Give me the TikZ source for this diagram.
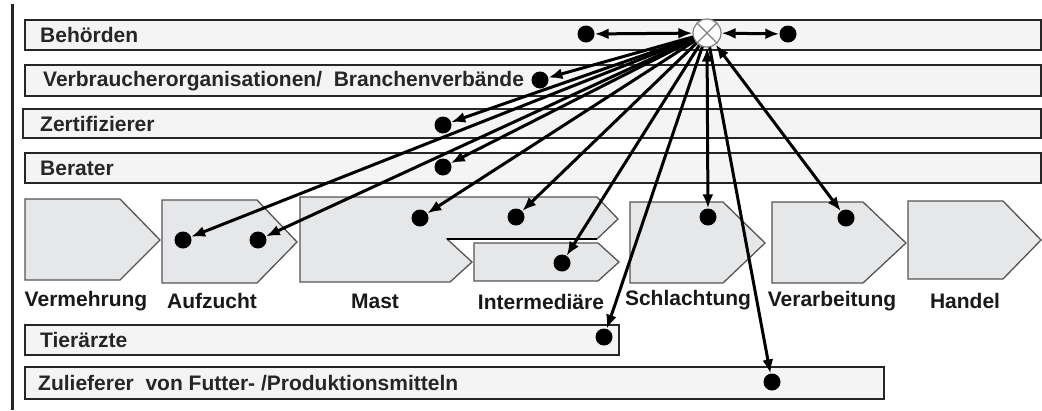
\documentclass[tikz,border=0pt]{standalone}
\usepackage{fontspec}
\setmainfont{Liberation Sans}
\usetikzlibrary{arrows.meta}
\definecolor{barfill}{HTML}{F4F4F4}
\definecolor{chevfill}{HTML}{E6E7E8}
\definecolor{chevedge}{HTML}{555555}
\tikzset{
  bar/.style={draw=black!85, line width=1.4pt, fill=barfill},
  barshadow/.style={black!85, line width=2.2pt},
  barlbl/.style={anchor=west, inner sep=0pt, font=\fontsize{21}{23}\selectfont\bfseries, text=black!85},
  chev/.style={draw=chevedge, line width=1.3pt, fill=chevfill, line join=miter},
  chevlbl/.style={inner sep=0pt, font=\fontsize{21}{23}\selectfont\bfseries, text=black!90},
  dot/.style={circle, fill=black, inner sep=0pt, minimum size=17pt},
  hubstyle/.style={circle, draw=gray, line width=1.2pt, fill=white, inner sep=0pt, minimum size=28pt},
  arr/.style={-{Latex[length=14pt,width=11pt]}, line width=3pt, black},
  darr/.style={{Latex[length=14pt,width=11pt]}-{Latex[length=14pt,width=11pt]}, line width=3pt, black},
}
\begin{document}
\begin{tikzpicture}[x=1pt,y=-1pt]
\useasboundingbox (0,0) rectangle (1042,410);
% left rule
\draw[line width=3pt, black!85] (12,4) -- (12,410);
% horizontal bars
\draw[bar] (25,20) rectangle (1041,50);
\draw[barshadow] (25,50) -- (1041,50);
\node[barlbl] (lbeh) at (40,35) {Behörden};
\draw[bar] (25,65) rectangle (1041,96);
\draw[barshadow] (25,96) -- (1041,96);
\node[barlbl] (lver) at (43,81) {Verbraucherorganisationen/\ \ Branchenverbände};
\draw[bar] (23,109) rectangle (1041,138);
\draw[barshadow] (23,138) -- (1041,138);
\node[barlbl] (lzer) at (40,124) {Zertifizierer};
\draw[bar] (25,153) rectangle (1041,183);
\draw[barshadow] (25,183) -- (1041,183);
\node[barlbl] (lber) at (40,168) {Berater};
\draw[bar] (25,325) rectangle (619,355);
\draw[barshadow] (25,355) -- (619,355);
\node[barlbl] (ltie) at (40,340) {Tierärzte};
\draw[bar] (25,367) rectangle (884,399);
\draw[barshadow] (25,399) -- (884,399);
\node[barlbl] (lzul) at (38,383) {Zulieferer\ \ von Futter- /Produktionsmitteln};
% chevrons
\draw[chev] (25,199) -- (120,199) -- (160,240) -- (120,280) -- (25,280) -- cycle;
\draw[chev] (162,200) -- (257,200) -- (297,242) -- (257,283) -- (162,283) -- cycle;
\draw[chev] (300,197) -- (597,197) -- (618,219) -- (597,239) -- (447,239) -- (472,262) -- (450,282) -- (300,282) -- cycle;
\draw[black, line width=2.4pt] (447,239) -- (597,239);
\draw[chev] (474,243) -- (598,243) -- (619,262) -- (598,281) -- (474,281) -- cycle;
\draw[chev] (630,202) -- (723,202) -- (765,243) -- (723,283) -- (630,283) -- cycle;
\draw[chev] (772,202) -- (863,202) -- (906,243) -- (863,283) -- (772,283) -- cycle;
\draw[chev] (908,201) -- (1003,201) -- (1041,240) -- (1003,279) -- (908,279) -- cycle;
% chevron labels
\node[chevlbl] (cver) at (86,301) {Vermehrung};
\node[chevlbl] (cauf) at (212,301) {Aufzucht};
\node[chevlbl] (cmas) at (375,301) {Mast};
\node[chevlbl] (cint) at (541,302) {Intermediäre};
\node[chevlbl] (csch) at (688,300) {Schlachtung};
\node[chevlbl] (cvea) at (832,301) {Verarbeitung};
\node[chevlbl] (chan) at (965,301) {Handel};
% hub
\node[hubstyle] (hub) at (707,33) {};
\draw[gray, line width=1.2pt] (hub.north west) -- (hub.south east);
\draw[gray, line width=1.2pt] (hub.north east) -- (hub.south west);
% dots
\node[dot] (dbl) at (586,34) {};
\node[dot] (dbr) at (788,34) {};
\node[dot] (dvo) at (540,80) {};
\node[dot] (dze) at (443,125) {};
\node[dot] (dbe) at (443,167) {};
\node[dot] (da1) at (183,240) {};
\node[dot] (da2) at (258,240) {};
\node[dot] (dm1) at (420,218) {};
\node[dot] (dm2) at (516,217) {};
\node[dot] (din) at (562,263) {};
\node[dot] (dsc) at (708,217) {};
\node[dot] (dva) at (846,218) {};
\node[dot] (dti) at (604,337) {};
\node[dot] (dzu) at (772,382) {};
% connectors
\draw[darr] (dbl) -- (hub);
\draw[darr] (hub) -- (dbr);
\foreach \d in {dvo,dze,dbe,da1,da2,dm1,dm2,din,dti,dzu}
  \draw[arr] (hub) -- (\d);
\draw[darr] (hub) -- (dsc);
\draw[darr] (hub) -- (dva);
\end{tikzpicture}
\end{document}
